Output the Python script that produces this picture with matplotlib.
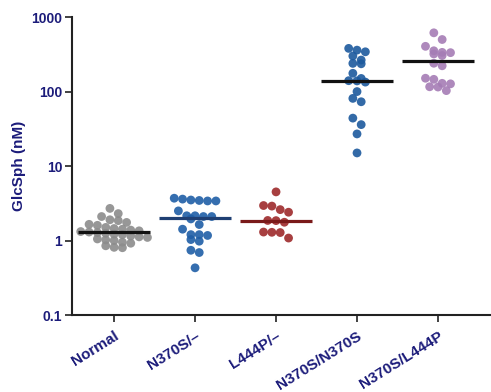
import numpy as np
import matplotlib.pyplot as plt

plt.rcParams['font.family'] = ['Liberation Sans', 'DejaVu Sans']

groups = ['Normal', 'N370S/\u2013', 'L444P/\u2013', 'N370S/N370S', 'N370S/L444P']

# GlcSph values (nM)
normal = [2.7, 2.3, 2.1, 1.9, 1.85, 1.75, 1.65, 1.6, 1.5, 1.45, 1.42, 1.38, 1.35,
          1.32, 1.3, 1.28, 1.25, 1.22, 1.2, 1.15, 1.12, 1.1, 1.05, 1.02, 1.0,
          0.95, 0.92, 0.85, 0.81, 0.8]
n370s_het = [3.7, 3.6, 3.5, 3.45, 3.4, 3.4, 2.5, 2.15, 2.15, 2.1, 2.1, 1.95,
             1.64, 1.42, 1.2, 1.2, 1.17, 1.03, 0.98, 0.74, 0.69, 0.43]
l444p_het = [4.5, 2.95, 2.9, 2.6, 2.4, 1.86, 1.85, 1.76, 1.3, 1.29, 1.28, 1.08]
n370s_hom = [380, 360, 342, 300, 265, 239, 236, 176, 150, 140, 139, 134, 100,
             81, 73, 44, 36, 27, 15]
n370s_l444p = [615, 500, 405, 353, 336, 333, 320, 305, 240, 222, 151, 146, 129,
               127, 116, 115, 103]
center_lines = [1.29, 2.0, 1.84, 140, 259]

all_data = [normal, n370s_het, l444p_het, n370s_hom, n370s_l444p]
point_colors = ['#8c8c8c', '#1f5ea6', '#9e2a2b', '#1d5a9e', '#a57cb5']
line_colors = ['#111111', '#1f3f73', '#7a1a1a', '#111111', '#111111']
navy = '#1c1c7a'


def column_offsets(vals, dy=0.09, step=0.103, max_half=0.42):
    # graphpad style column scatter: close values share a row, spread sideways
    vals = np.asarray(vals, dtype=float)
    logv = np.log10(vals)
    order = np.argsort(-logv)
    rows, cur, start = [], [], None
    for k in order:
        if start is None or start - logv[k] <= dy:
            if start is None:
                start = logv[k]
            cur.append(k)
        else:
            rows.append(cur)
            cur, start = [k], logv[k]
    rows.append(cur)
    offs = np.zeros(len(vals))
    for idx in rows:
        n = len(idx)
        sp = step
        if n > 1 and (n - 1) * sp / 2 > max_half:
            sp = 2 * max_half / (n - 1)
        offs[idx] = (np.arange(n) - (n - 1) / 2) * sp
    return offs


fig = plt.figure(figsize=(4.91, 3.92), dpi=100)
ax = fig.add_axes([0.1466, 0.1964, 0.851, 0.760])

for i, vals in enumerate(all_data):
    x = i + column_offsets(vals)
    ax.scatter(x, vals, s=40, color=point_colors[i], edgecolors='none',
               alpha=0.9, zorder=2)
    ax.plot([i - 0.44, i + 0.44], [center_lines[i]] * 2,
            color=line_colors[i], lw=2.3, zorder=3, solid_capstyle='butt')

ax.set_yscale('log')
ax.set_ylim(0.1, 1000)
ax.set_xlim(-0.52, 4.64)
ax.set_yticks([0.1, 1, 10, 100, 1000])
ax.set_yticklabels(['0.1', '1', '10', '100', '1000'])
ax.minorticks_off()
ax.set_xticks(range(len(groups)))
ax.set_xticklabels(groups, rotation=32, ha='right', va='top',
                   rotation_mode='anchor')

for lab in ax.get_yticklabels():
    lab.set_fontweight('bold')
    lab.set_color(navy)
    lab.set_fontsize(10)
for lab in ax.get_xticklabels():
    lab.set_fontweight('bold')
    lab.set_color(navy)
    lab.set_fontsize(11)

ax.tick_params(axis='both', length=5, width=1.3, color='#333333', pad=2)
ax.tick_params(axis='x', pad=5)
ax.set_ylabel('GlcSph (nM)', fontsize=11, fontweight='bold', color=navy,
              labelpad=4)

for s in ['top', 'right']:
    ax.spines[s].set_visible(False)
for s in ['left', 'bottom']:
    ax.spines[s].set_linewidth(1.5)
    ax.spines[s].set_color('#222222')

fig.savefig('out.png', dpi=100)
